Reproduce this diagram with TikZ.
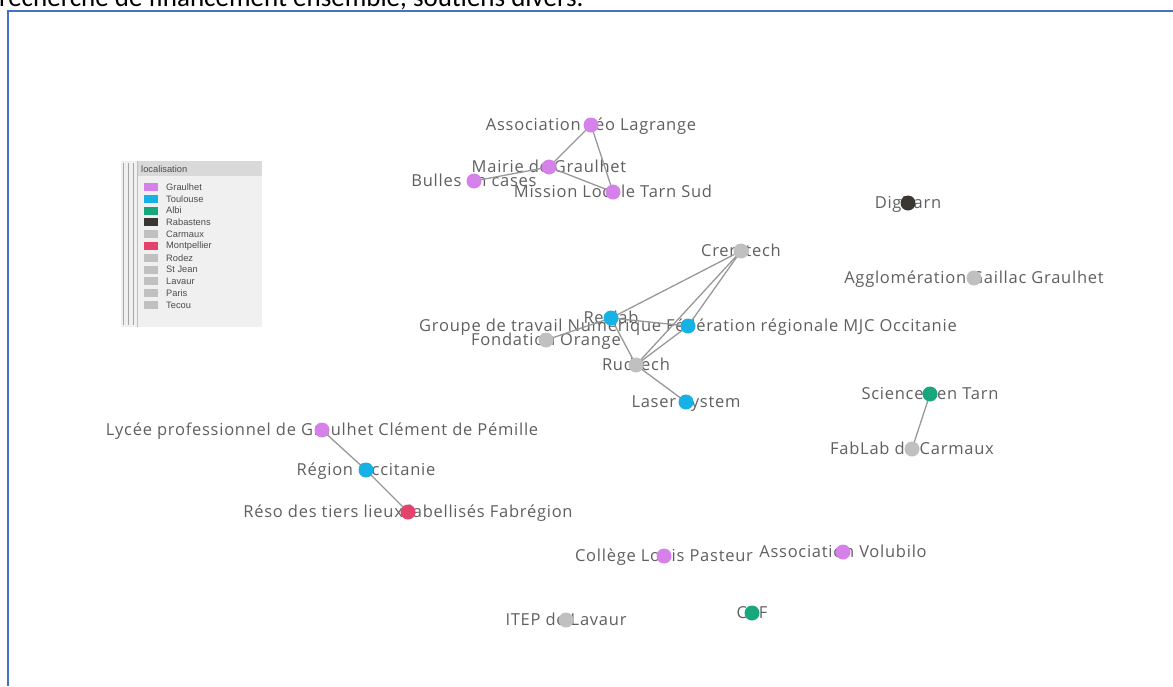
\documentclass[tikz,border=0pt]{standalone}
\usepackage{fontspec}
\setmainfont{Open Sans}[LetterSpace=4.5]
\newfontfamily\textefont{Carlito}
\newfontfamily\legendefont{Liberation Sans}

\definecolor{graulhet}{RGB}{214,128,234}
\definecolor{toulouse}{RGB}{22,178,230}
\definecolor{albi}{RGB}{24,166,125}
\definecolor{rabastens}{RGB}{58,55,50}
\definecolor{autre}{RGB}{192,192,192}
\definecolor{montpellier}{RGB}{228,68,108}
\definecolor{trait}{RGB}{152,152,152}
\definecolor{etiquette}{RGB}{95,95,95}
\definecolor{cadrebleu}{RGB}{68,114,196}

\pgfdeclarelayer{fond}
\pgfsetlayers{fond,main}

\tikzset{
  rond/.style={circle, inner sep=0pt, minimum size=15pt, fill=#1},
  nom/.style={text=etiquette, inner sep=0pt, anchor=base, yshift=-5.5pt,
              font=\fontsize{16.5}{19}\selectfont},
  lien/.style={draw=trait, line width=1.3pt},
  entete/.style={anchor=base west, inner sep=0pt,
                 font=\textefont\fontsize{27}{31}\selectfont},
  cadre/.style={draw=cadrebleu, line width=1.2pt},
  case/.style={inner sep=0pt, minimum width=14pt, minimum height=8pt, fill=#1},
  leg/.style={anchor=west, inner sep=0pt, text=black!70,
              font=\legendefont\fontsize{9.3}{10}\selectfont},
}

\begin{document}
\begin{tikzpicture}[x=1pt,y=-1pt]
\useasboundingbox (0,0) rectangle (1173,686);

% texte du document et cadre
\node[entete] (titre) at (-1,6.5) {recherche de financement ensemble, soutiens divers.};
\draw[cadre] (1173,11) -| (8,686);

% legende
\fill[black!6] (121,161) rectangle (262,327);
\fill[black!15] (137,161) rectangle (262,176);
\draw[black!35, line width=0.8pt] (123,163) -- (123,325);
\draw[black!35, line width=0.8pt] (128,163) -- (128,325);
\draw[black!35, line width=0.8pt] (133,163) -- (133,325);
\draw[black!25, line width=0.6pt] (137,161) -- (137,327);
\node[leg] (leg-titre) at (141,169) {localisation};
\node[case=graulhet] (c-graulhet) at (151,187) {};
\node[leg] (l-graulhet) at (166,187) {Graulhet};
\node[case=toulouse] (c-toulouse) at (151,198.8) {};
\node[leg] (l-toulouse) at (166,198.8) {Toulouse};
\node[case=albi] (c-albi) at (151,210.6) {};
\node[leg] (l-albi) at (166,210.6) {Albi};
\node[case=rabastens] (c-rabastens) at (151,222.4) {};
\node[leg] (l-rabastens) at (166,222.4) {Rabastens};
\node[case=autre] (c-carmaux) at (151,234.2) {};
\node[leg] (l-carmaux) at (166,234.2) {Carmaux};
\node[case=montpellier] (c-montpellier) at (151,246) {};
\node[leg] (l-montpellier) at (166,246) {Montpellier};
\node[case=autre] (c-rodez) at (151,257.8) {};
\node[leg] (l-rodez) at (166,257.8) {Rodez};
\node[case=autre] (c-stjean) at (151,269.6) {};
\node[leg] (l-stjean) at (166,269.6) {St Jean};
\node[case=autre] (c-lavaur) at (151,281.4) {};
\node[leg] (l-lavaur) at (166,281.4) {Lavaur};
\node[case=autre] (c-paris) at (151,293.2) {};
\node[leg] (l-paris) at (166,293.2) {Paris};
\node[case=autre] (c-tecou) at (151,305) {};
\node[leg] (l-tecou) at (166,305) {Tecou};

% acteurs
\node[rond=graulhet] (leo) at (591,125) {};
\node[rond=graulhet] (mairie) at (549,167) {};
\node[rond=graulhet] (bulles) at (474,181) {};
\node[rond=graulhet] (mission) at (613,192) {};
\node[rond=rabastens] (digitarn) at (908,203) {};
\node[rond=autre] (cremtech) at (741,251) {};
\node[rond=autre] (agglo) at (974,278) {};
\node[rond=toulouse] (rexlab) at (611,318) {};
\node[rond=toulouse] (mjc) at (688,326) {};
\node[rond=autre] (fondation) at (546,340) {};
\node[rond=autre] (rudtech) at (636,365) {};
\node[rond=toulouse] (laser) at (686,402) {};
\node[rond=albi] (sciences) at (930,394) {};
\node[rond=autre] (fablab) at (912,449) {};
\node[rond=graulhet] (lycee) at (322,430) {};
\node[rond=toulouse] (region) at (366,470) {};
\node[rond=montpellier] (reso) at (408,512) {};
\node[rond=graulhet] (college) at (664,556) {};
\node[rond=graulhet] (volubilo) at (843,552) {};
\node[rond=autre] (itep) at (566,620) {};
\node[rond=albi] (caf) at (752,613) {};

\begin{pgfonlayer}{fond}
% noms
\node[nom] (leo-n) at (leo) {Association Léo Lagrange};
\node[nom] (mairie-n) at (mairie) {Mairie de Graulhet};
\node[nom] (bulles-n) at (bulles) {Bulles en cases};
\node[nom] (mission-n) at (mission) {Mission Locale Tarn Sud};
\node[nom] (digitarn-n) at (digitarn) {Digitarn};
\node[nom] (cremtech-n) at (cremtech) {Cremtech};
\node[nom] (agglo-n) at (agglo) {Agglomération Gaillac Graulhet};
\node[nom] (rexlab-n) at (rexlab) {Rexlab};
\node[nom] (mjc-n) at (mjc) {Groupe de travail Numérique Fédération régionale MJC Occitanie};
\node[nom] (fondation-n) at (fondation) {Fondation Orange};
\node[nom] (rudtech-n) at (rudtech) {Rudtech};
\node[nom] (laser-n) at (laser) {Laser System};
\node[nom] (sciences-n) at (sciences) {Sciences en Tarn};
\node[nom] (fablab-n) at (fablab) {FabLab de Carmaux};
\node[nom] (lycee-n) at (lycee) {Lycée professionnel de Graulhet Clément de Pémille};
\node[nom] (region-n) at (region) {Région Occitanie};
\node[nom] (reso-n) at (reso) {Réso des tiers lieux labellisés Fabrégion};
\node[nom] (college-n) at (college) {Collège Louis Pasteur};
\node[nom] (volubilo-n) at (volubilo) {Association Volubilo};
\node[nom] (itep-n) at (itep) {ITEP de Lavaur};
\node[nom] (caf-n) at (caf) {CAF};

% liens
\draw[lien] (leo.center) -- (mairie.center);
\draw[lien] (leo.center) -- (mission.center);
\draw[lien] (mairie.center) -- (mission.center);
\draw[lien] (mairie.center) -- (bulles.center);
\draw[lien] (cremtech.center) -- (rexlab.center);
\draw[lien] (cremtech.center) -- (mjc.center);
\draw[lien] (cremtech.center) -- (rudtech.center);
\draw[lien] (rexlab.center) -- (mjc.center);
\draw[lien] (rexlab.center) -- (fondation.center);
\draw[lien] (rexlab.center) -- (rudtech.center);
\draw[lien] (mjc.center) -- (rudtech.center);
\draw[lien] (rudtech.center) -- (laser.center);
\draw[lien] (sciences.center) -- (fablab.center);
\draw[lien] (lycee.center) -- (region.center);
\draw[lien] (region.center) -- (reso.center);
\end{pgfonlayer}
\end{tikzpicture}
\end{document}
